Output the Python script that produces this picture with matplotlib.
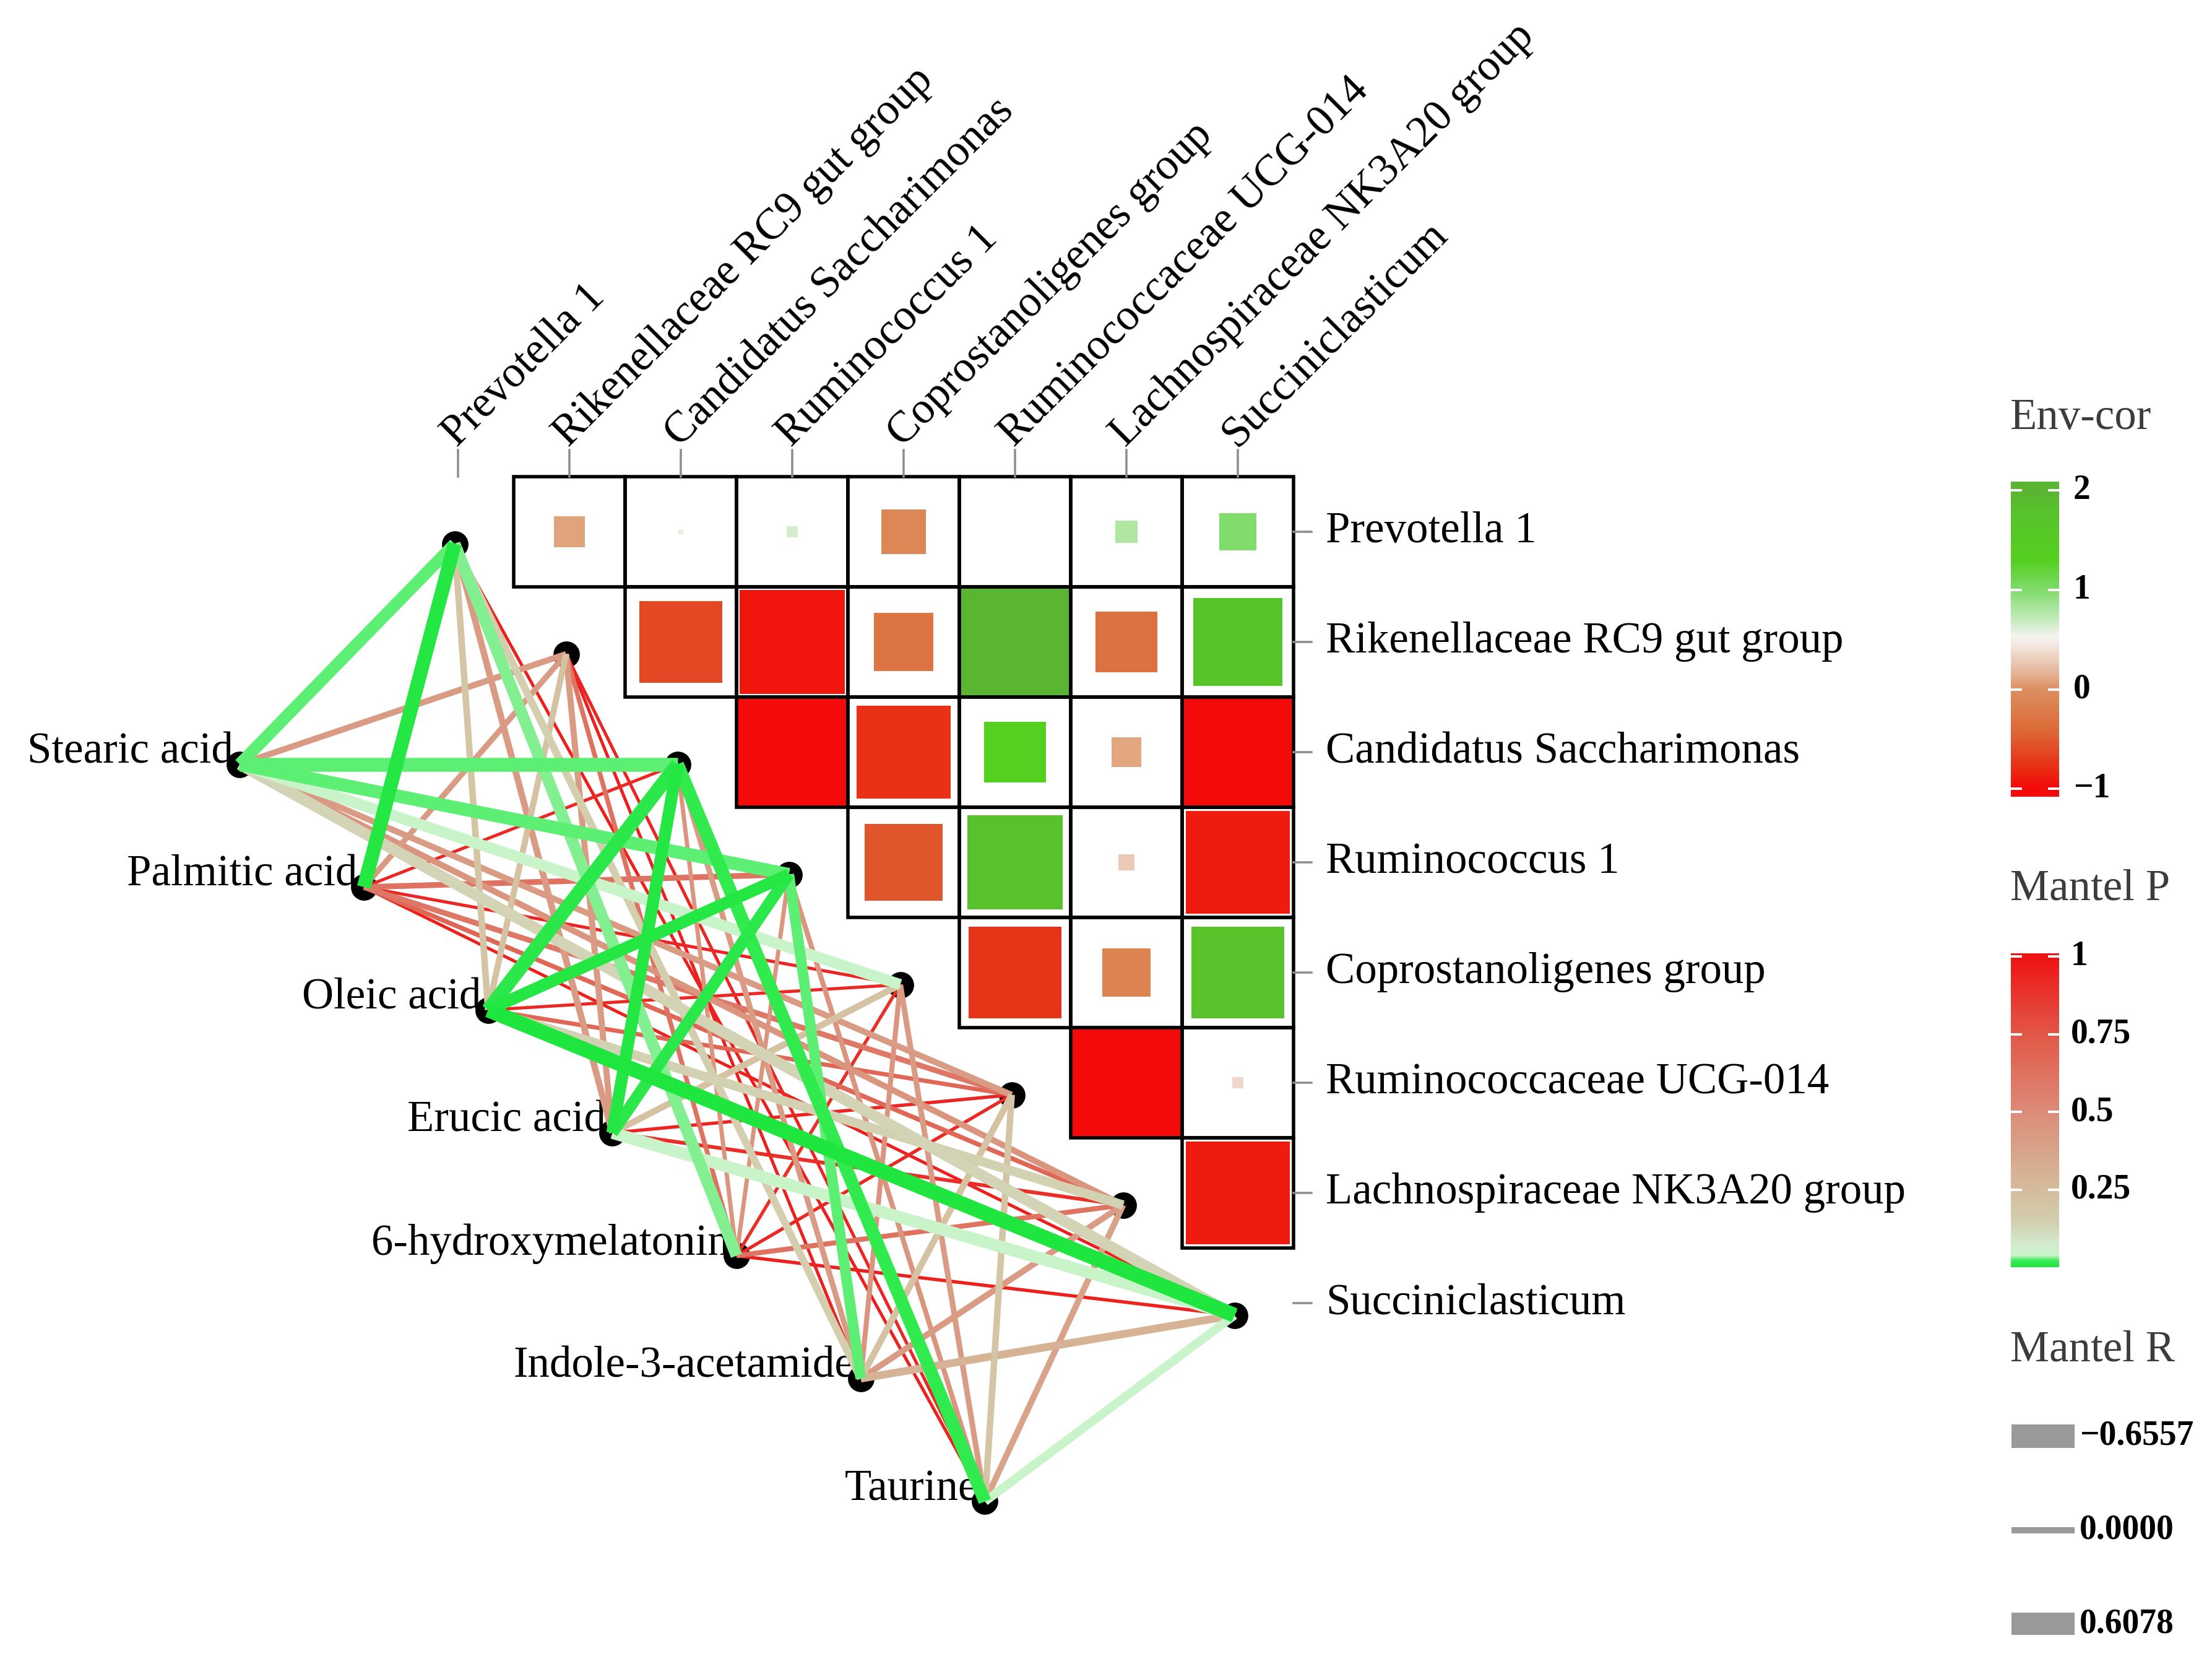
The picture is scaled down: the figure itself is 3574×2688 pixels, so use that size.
import numpy as np
import matplotlib.pyplot as plt
from matplotlib.colors import LinearSegmentedColormap, Normalize
from matplotlib.patches import Rectangle

plt.rcParams['font.family'] = ['Liberation Serif', 'DejaVu Serif']

W, H, DPI = 3574, 2688, 200

# ---- data -------------------------------------------------------------
species = ['Prevotella 1', 'Rikenellaceae RC9 gut group', 'Candidatus Saccharimonas',
           'Ruminococcus 1', 'Coprostanoligenes group', 'Ruminococcaceae UCG-014',
           'Lachnospiraceae NK3A20 group', 'Succiniclasticum']
metabolites = ['Stearic acid', 'Palmitic acid', 'Oleic acid', 'Erucic acid',
               '6-hydroxymelatonin', 'Indole-3-acetamide', 'Taurine']

# upper triangle of the species correlation (Env-cor scale, -1 .. 2)
env_cor = [
    [0.08, 0.44, 0.65, -0.10, 0.50, 0.80, 1.00],
    [-0.62, -0.92, -0.30, 2.00, -0.33, 1.70],
    [-1.00, -0.77, 1.33, 0.10, -1.00],
    [-0.55, 1.78, 0.28, -0.90],
    [-0.75, -0.15, 1.75],
    [-1.00, 0.35],
    [-0.90],
]

# Mantel tests, rows = metabolites, columns = species
mantel_p = [
    [0.025, 0.42, 0.025, 0.025, 0.042, 0.42, 0.45, 0.13],
    [0.005, 0.42, 0.92, 0.62, 0.93, 0.60, 0.68, 0.95],
    [0.20, 0.22, 0.008, 0.005, 0.92, 0.68, 0.14, 0.002],
    [0.42, 0.42, 0.005, 0.008, 0.22, 0.93, 0.90, 0.04],
    [0.03, 0.62, 0.45, 0.45, 0.90, 0.92, 0.62, 0.95],
    [0.15, 0.95, 0.42, 0.025, 0.45, 0.22, 0.42, 0.30],
    [0.95, 0.93, 0.015, 0.45, 0.42, 0.20, 0.38, 0.04],
]
mantel_r = [
    [0.50, 0.18, 0.60, 0.55, 0.45, 0.18, 0.18, 0.45],
    [0.60, 0.16, 0.02, 0.16, 0.02, 0.15, 0.10, 0.02],
    [0.20, 0.18, 0.60, 0.50, 0.02, 0.08, 0.35, 0.65],
    [0.20, 0.18, 0.50, 0.48, 0.20, 0.03, 0.05, 0.50],
    [0.48, 0.10, 0.08, 0.08, 0.03, 0.03, 0.12, 0.03],
    [0.25, 0.02, 0.15, 0.42, 0.12, 0.20, 0.18, 0.27],
    [0.02, 0.02, 0.55, 0.12, 0.15, 0.20, 0.18, 0.32],
]

cor_ticks = [2, 1, 0, -1]
p_ticks = [1, 0.75, 0.5, 0.25]
r_legend = [-0.6557, 0.0, 0.6078]

# ---- colour scales ----------------------------------------------------
cor_nodes = [(-1.0, '#f50a0a'), (-0.83, '#ea2812'), (-0.42, '#dc6a38'), (0.0, '#dd9060'),
             (0.14, '#e4b090'), (0.42, '#f2e4dc'), (0.53, '#f4f4f0'), (0.69, '#c8ecc0'),
             (1.0, '#80dc6c'), (1.31, '#55d020'), (1.8, '#58c22c'), (2.0, '#5ab532')]
cor_cmap = LinearSegmentedColormap.from_list('envcor', [((v + 1) / 3, c) for v, c in cor_nodes])
cor_norm = Normalize(-1, 2)

p_nodes = [(0.0, '#1ee63e'), (0.02, '#3cec5a'), (0.035, '#c8f5c8'), (0.07, '#d4ecd0'),
           (0.14, '#d2d0b0'), (0.25, '#d5bc9c'), (0.5, '#dc8c78'), (0.75, '#e25848'),
           (1.0, '#ee1414')]
p_cmap = LinearSegmentedColormap.from_list('mantelp', p_nodes)


def pt(px):
    return px * 72 / DPI


fig = plt.figure(figsize=(W / DPI, H / DPI), dpi=DPI)
fig.patch.set_facecolor('white')

# main panel: one unit = one heatmap cell, x = column, y = -row
ax = fig.add_axes([0, 0, 1, 1])
ax.set_xlim(-740 / 180, (W - 740) / 180)
ax.set_ylim(-(H - 859) / 178, 859 / 178)
ax.axis('off')

n = len(species)

# heatmap cells
for i, row in enumerate(env_cor):
    for k, v in enumerate(row):
        j = i + 1 + k
        s = abs(v - 0.5) / 1.5
        ax.add_patch(Rectangle((j - s / 2, -i - s / 2), s, s, fc=cor_cmap(cor_norm(v)),
                               ec='none', zorder=1))
        ax.add_patch(Rectangle((j - 0.5, -i - 0.5), 1, 1, fill=False, ec='black',
                               lw=pt(5.5), zorder=2))

# axis ticks and labels
for j, name in enumerate(species):
    ax.plot([j, j], [0.5, 0.74], color='#8c8c8c', lw=pt(3.5), zorder=2)
    ax.text(j - 0.01, 0.76, name, rotation=45, rotation_mode='anchor',
            ha='left', va='baseline', fontsize=25.5)
    ax.plot([n - 0.5, n - 0.34], [-j, -j], color='#8c8c8c', lw=pt(3.5), zorder=2)
    ax.text(n - 0.21, -j, name, ha='left', va='center', fontsize=25.5)

# network nodes
sx = np.arange(n) - 0.03
sy = -(np.arange(n) + 0.11)
idx = np.arange(len(metabolites))
mx = -1.96 + 1.115 * idx
my = -(2.11 + 1.115 * idx)

edges = [(mantel_p[i][j], mantel_r[i][j], i, j)
         for i in range(len(metabolites)) for j in range(n)]
edges.sort(key=lambda e: -e[0])
for p, r, i, j in edges:
    ax.plot([mx[i], sx[j]], [my[i], sy[j]], color=p_cmap(p),
            lw=pt(4.5 + 30 * abs(r)), solid_capstyle='butt', zorder=4)

ax.scatter(sx, sy, s=pt(40) ** 2, color='black', zorder=3)
ax.scatter(mx, my, s=pt(40) ** 2, color='black', zorder=3)
for i, name in enumerate(metabolites):
    ax.text(mx[i] - 0.06, my[i] + 0.11, name, ha='right', va='center', fontsize=25.5)

# ---- legends (pixel coordinates) -----------------------------------
lax = fig.add_axes([0, 0, 1, 1], facecolor='none')
lax.axis('off')
title_kw = dict(ha='left', va='center', fontsize=25.5, color='#3c3c3c')
tick_kw = dict(ha='left', va='center', fontsize=20, fontweight='bold')


def colorbar(x0, x1, top, bottom, vmin, vmax, cmap, norm, ticks, label_x):
    grad = np.linspace(vmin, vmax, 512).reshape(-1, 1)
    lax.imshow(norm(grad), cmap=cmap, vmin=0, vmax=1, origin='lower', aspect='auto',
               extent=[x0, x1, bottom, top], interpolation='bilinear')
    for t in ticks:
        y = bottom - (t - vmin) / (vmax - vmin) * (bottom - top)
        tl = 0.21 * (x1 - x0)
        lax.plot([x0, x0 + tl], [y, y], color='white', lw=pt(4))
        lax.plot([x1 - tl, x1], [y, y], color='white', lw=pt(4))
        lab = ('\u2212%g' % -t) if t < 0 else '%g' % t
        lax.text(label_x, y, lab, **tick_kw)


lax.text(3248, 675, 'Env-cor', **title_kw)
colorbar(3249, 3327, 778, 1287, -1.08, 2.09, cor_cmap, cor_norm, cor_ticks, 3350)

lax.text(3248, 1436, 'Mantel P', **title_kw)
colorbar(3249, 3327, 1540, 2047, 0.0, 1.01, p_cmap, Normalize(0, 1), p_ticks, 3346)

lax.text(3248, 2181, 'Mantel R', **title_kw)
for k, rv in enumerate(r_legend):
    yc = 2320 + 151.5 * k
    h = 10 + 42 * abs(rv)
    lax.add_patch(Rectangle((3250, yc - h / 2), 102, h, fc='#999999', ec='none'))
    lab = ('\u2212%.4f' % -rv) if rv < 0 else '%.4f' % rv
    lax.text(3360, yc, lab, **tick_kw)

lax.set_xlim(0, W)
lax.set_ylim(H, 0)

fig.savefig('out.png', dpi=DPI)
